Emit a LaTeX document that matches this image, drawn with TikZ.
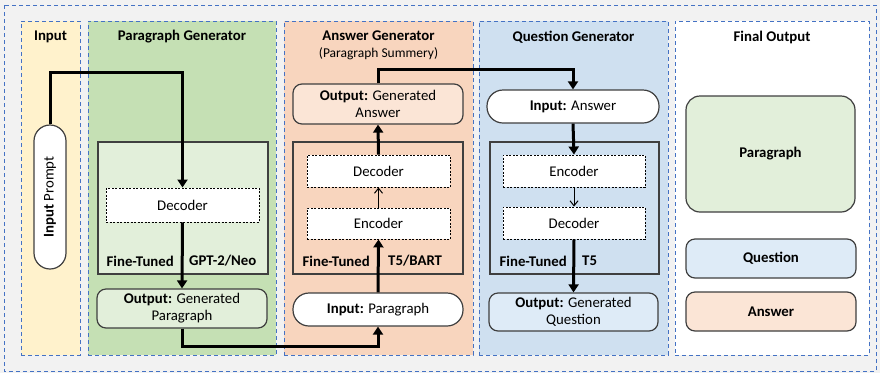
\documentclass[tikz,border=0pt]{standalone}
\usepackage{fontspec}
\setmainfont{Carlito}
\usetikzlibrary{arrows.meta,calc}
\definecolor{bgc}{HTML}{F2F2F2}
\definecolor{dblue}{HTML}{4472C4}
\definecolor{yelc}{HTML}{FFF2CC}
\definecolor{grnc}{HTML}{C5E0B4}
\definecolor{grnl}{HTML}{E2EFDA}
\definecolor{orgc}{HTML}{F8D5BE}
\definecolor{orgl}{HTML}{FBE5D6}
\definecolor{bluc}{HTML}{CFE0F0}
\definecolor{blul}{HTML}{DEEBF7}
\definecolor{edgec}{HTML}{3F3F3F}
\tikzset{
  txt/.style={font=\fontsize{14.8}{17}\selectfont},
  col/.style={draw=dblue, dash pattern=on 4pt off 3pt, line width=0.9pt, inner sep=0pt, minimum height=334pt},
  ttl/.style={txt, font=\fontsize{14.8}{17}\selectfont\bfseries},
  inner/.style={draw=edgec, line width=1.2pt, inner sep=0pt},
  dbox/.style={txt, draw=black, fill=white, dash pattern=on 2pt off 1.5pt, line width=0.9pt, inner sep=0pt},
  rbox/.style={txt, draw=edgec, line width=1.2pt, rounded corners=9pt, inner sep=0pt, align=center},
  pill/.style={txt, draw=edgec, fill=white, line width=1.2pt, rounded corners=16pt, inner sep=0pt},
  big/.style={line width=3pt, -{Triangle[width=10pt,length=8pt]}},
  thin/.style={line width=1pt, -{Straight Barb[width=8pt,length=5pt]}},
  lbl/.style={txt, font=\fontsize{14.8}{17}\selectfont\bfseries, inner sep=0pt}
}
\begin{document}
\begin{tikzpicture}[x=1pt,y=-1pt]
\useasboundingbox (0,0) rectangle (880,373);
\fill[bgc] (0,0) rectangle (880,373);
\draw[dblue, dash pattern=on 4pt off 3pt, line width=0.9pt] (4,5) rectangle (876,371);

% columns
\node[col, fill=yelc, minimum width=59pt] (cIn) at (50.5,188) {};
\node[col, fill=grnc, minimum width=188pt] (cPG) at (182,188) {};
\node[col, fill=orgc, minimum width=189pt] (cAG) at (378.5,188) {};
\node[col, fill=bluc, minimum width=189pt] (cQG) at (573.5,188) {};
\node[col, fill=white, minimum width=194pt] (cFO) at (772,188) {};

% titles
\node[ttl] (tIn) at (50.5,37) {Input};
\node[ttl] (tPG) at (182,37) {Paragraph Generator};
\node[ttl] (tAG) at (378.5,36) {Answer Generator};
\node[txt, font=\fontsize{13.5}{16}\selectfont] (tAGs) at (378.5,54) {(Paragraph Summery)};
\node[ttl] (tQG) at (573.5,37) {Question Generator};
\node[ttl] (tFO) at (772,37) {Final Output};

% input
\node[pill, minimum width=144pt, minimum height=32pt, rotate=90] (prompt) at (50,197) {\textbf{Input} Prompt};

% paragraph generator
\node[inner, fill=grnl, minimum width=170pt, minimum height=132pt] (pgInner) at (183,208) {};
\node[dbox, minimum width=153pt, minimum height=34pt] (pgDec) at (182.5,205) {Decoder};
\node[rbox, fill=grnl, minimum width=170pt, minimum height=39pt] (pgOut) at (182,308.5) {\textbf{Output:} Generated\\Paragraph};
\node[lbl, anchor=east] (pgFT) at (174,261) {Fine-Tuned};
\node[lbl, anchor=west] (pgM) at (189,261) {GPT-2/Neo};

% answer generator
\node[rbox, fill=orgl, minimum width=170pt, minimum height=40pt] (agOut) at (378,104) {\textbf{Output:} Generated\\Answer};
\node[inner, fill=orgc, minimum width=170pt, minimum height=132pt] (agInner) at (378,208) {};
\node[dbox, minimum width=143pt, minimum height=32pt] (agDec) at (378.5,171) {Decoder};
\node[dbox, minimum width=143pt, minimum height=31pt] (agEnc) at (378.5,223.5) {Encoder};
\node[pill, minimum width=170pt, minimum height=33pt] (agIn) at (378,309.5) {\textbf{Input:} Paragraph};
\node[lbl, anchor=east] (agFT) at (370,261) {Fine-Tuned};
\node[lbl, anchor=west] (agM) at (388,261) {T5/BART};

% question generator
\node[pill, minimum width=172pt, minimum height=33pt] (qgIn) at (573,106.5) {\textbf{Input:} Answer};
\node[inner, fill=bluc, minimum width=169pt, minimum height=132pt] (qgInner) at (574.5,208) {};
\node[dbox, minimum width=142pt, minimum height=32pt] (qgEnc) at (574,171) {Encoder};
\node[dbox, minimum width=142pt, minimum height=32pt] (qgDec) at (574,223) {Decoder};
\node[rbox, fill=blul, minimum width=169pt, minimum height=38pt] (qgOut) at (573.5,312) {\textbf{Output:} Generated\\Question};
\node[lbl, anchor=east] (qgFT) at (567,261) {Fine-Tuned};
\node[lbl, anchor=west] (qgM) at (582,261) {T5};

% final output
\node[rbox, fill=grnl, rounded corners=14pt, minimum width=169pt, minimum height=116pt, font=\fontsize{14.8}{17}\selectfont\bfseries] (foP) at (770.5,154) {Paragraph};
\node[rbox, fill=blul, minimum width=170pt, minimum height=39pt, font=\fontsize{14.8}{17}\selectfont\bfseries] (foQ) at (771,258.5) {Question};
\node[rbox, fill=orgl, minimum width=170pt, minimum height=39pt, font=\fontsize{14.8}{17}\selectfont\bfseries] (foA) at (771,311.5) {Answer};

% connectors
\coordinate (y1) at (0,72);
\coordinate (y2) at (0,346);
\coordinate (y3) at (0,69);
\draw[big] (prompt.east) |- (pgDec.north |- y1) -- (pgDec.north);
\draw[big] (pgDec.south) -- (pgOut.north);
\draw[big] (pgOut.south) |- (agIn.south |- y2) -- (agIn.south);
\draw[big] (agIn.north) -- (agEnc.south);
\draw[thin] (agEnc.north) -- (agDec.south);
\draw[big] (agDec.north) -- (agOut.south);
\draw[big] (agOut.north) |- (qgIn.north |- y3) -- (qgIn.north);
\draw[big] (qgIn.south) -- (qgEnc.north);
\draw[thin] (qgEnc.south) -- (qgDec.north);
\draw[big] (qgDec.south) -- (qgOut.north);
\end{tikzpicture}
\end{document}
